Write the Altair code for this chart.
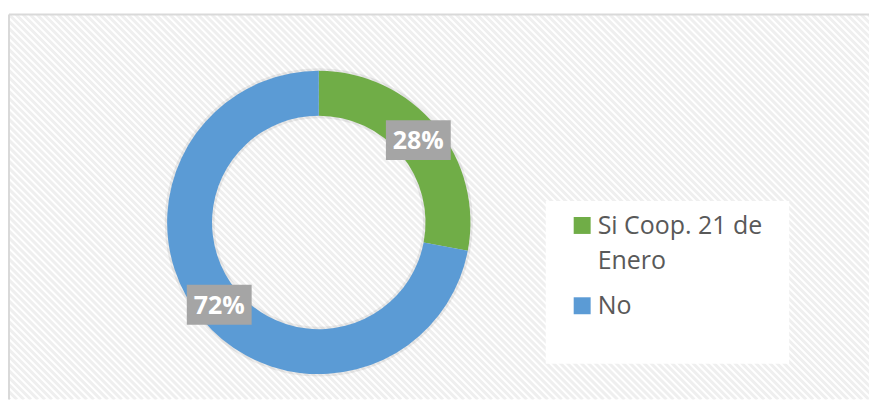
import altair as alt
import pandas as pd

categories = ["Si Coop. 21 de Enero", "No"]
values = [28, 72]
colors = ["#70AD47", "#5B9BD5"]
legend_lines = ["Si Coop. 21 de\nEnero", "No"]

W, H = 862, 386
CX, CY = 310.5, 208.5
R_OUT, R_IN = 152, 107
R_LAB = (R_OUT + R_IN) / 2

df = pd.DataFrame({
    "category": categories,
    "value": values,
    "idx": list(range(len(categories))),
    "legend": legend_lines,
})
base = alt.Chart(df)
one = alt.Chart(pd.DataFrame({"a": [0]}))
color_enc = alt.Color("category:N", scale=alt.Scale(domain=categories, range=colors), legend=None)

stripes = alt.Chart(alt.sequence(-420, 880, 7, as_="s")).transform_calculate(
    x1="datum.s", x2=f"datum.s + {H}", y1="0", y2=str(H)
).mark_rule(color="#efefef", strokeWidth=3, clip=True).encode(
    x=alt.X("x1:Q", scale=None, axis=None), x2="x2:Q",
    y=alt.Y("y1:Q", scale=None, axis=None), y2="y2:Q",
)

border_top = one.mark_rule(color="#d9d9d9", strokeWidth=2).encode(
    x=alt.value(0), x2=alt.value(W), y=alt.value(0)
)
border_left = one.mark_rule(color="#d9d9d9", strokeWidth=2).encode(
    x=alt.value(0), y=alt.value(0), y2=alt.value(H)
)

legend_bg = one.mark_rect(fill="white").encode(
    x=alt.value(538), x2=alt.value(782), y=alt.value(187), y2=alt.value(350)
)

shadow = base.transform_aggregate(total="sum(value)").mark_arc(
    outerRadius=R_OUT + 2.5, innerRadius=R_IN - 2.5, color="#000000", opacity=0.07
).encode(theta=alt.Theta("total:Q"), x=alt.value(CX), y=alt.value(CY))

donut = base.mark_arc(outerRadius=R_OUT, innerRadius=R_IN).encode(
    theta=alt.Theta("value:Q", stack=True),
    color=color_enc,
    order=alt.Order("idx:Q"),
    x=alt.value(CX), y=alt.value(CY),
)

lab_base = base.transform_window(
    cum="sum(value)", sort=[alt.SortField("idx")], frame=[None, 0]
).transform_joinaggregate(total="sum(value)").transform_calculate(
    mid="(datum.cum - datum.value/2)/datum.total*2*PI",
).transform_calculate(
    px=f"{CX} + {R_LAB}*sin(datum.mid)",
    py=f"{CY} - {R_LAB}*cos(datum.mid)",
).transform_calculate(
    bx1="datum.px - 32.5", bx2="datum.px + 32.5",
    by1="datum.py - 20", by2="datum.py + 20",
    lab="datum.value + '%'",
)

boxes = lab_base.mark_rect(color="#A5A5A5").encode(
    x=alt.X("bx1:Q", scale=None, axis=None), x2="bx2:Q",
    y=alt.Y("by1:Q", scale=None, axis=None), y2="by2:Q",
)
texts = lab_base.mark_text(
    font="Open Sans", fontSize=25, fontWeight="bold", color="white",
    align="center", baseline="middle", dy=1,
).encode(x=alt.X("px:Q", scale=None), y=alt.Y("py:Q", scale=None), text="lab:N")

squares = base.transform_calculate(sy="211.5 + datum.idx*80.5").mark_square(
    size=289, opacity=1, filled=True
).encode(x=alt.value(574.5), y=alt.Y("sy:Q", scale=None), color=color_enc)

leg_text = base.transform_calculate(ty="220 + datum.idx*80").mark_text(
    align="left", baseline="alphabetic", font="Open Sans", fontSize=25,
    color="#595959", lineBreak="\n", lineHeight=35,
).encode(x=alt.value(590), y=alt.Y("ty:Q", scale=None), text="legend:N")

chart = alt.layer(
    stripes, border_top, border_left, legend_bg, shadow, donut, boxes, texts, squares, leg_text
).resolve_scale(theta="independent").properties(
    width=W, height=H,
    padding={"left": 0, "top": 5, "right": 0, "bottom": 0},
).configure_view(stroke=None, fill="white")

chart.save("out.html", embed_options={"renderer": "svg", "actions": False})
